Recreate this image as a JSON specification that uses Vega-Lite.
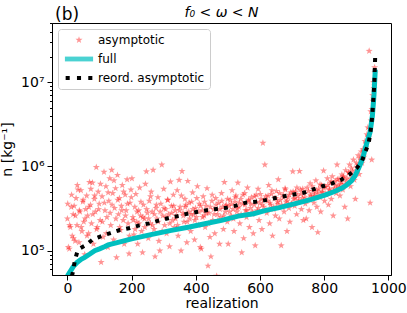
{
  "$schema": "https://vega.github.io/schema/vega-lite/v6.json",
  "background": "white",
  "padding": {"left": 0, "top": 5, "right": 5, "bottom": 3},
  "title": {"text": "(b)", "anchor": "start", "frame": "group", "fontSize": 17, "fontWeight": "normal", "font": "DejaVu Sans", "color": "black", "offset": -18, "dx": 3},
  "config": {
    "font": "DejaVu Sans",
    "view": {"stroke": "black", "strokeWidth": 1},
    "axis": {"domainColor": "black", "tickColor": "black", "labelColor": "black", "titleColor": "black", "labelFont": "DejaVu Sans", "titleFont": "DejaVu Sans", "labelFontSize": 14, "titleFontSize": 14, "titleFontWeight": "normal", "grid": false}
  },
  "datasets": {
    "stars": [
      {"i":0,"n":2.4e5},{"i":3,"n":1.1e5},{"i":6,"n":1.05e5},{"i":9,"n":1.9e5},{"i":12,"n":3.3e5},{"i":15,"n":1.5e5},{"i":18,"n":2.7e5},{"i":21,"n":3.4e5},{"i":24,"n":1.3e5},{"i":27,"n":4.2e5},{"i":30,"n":2.0e5},{"i":33,"n":5.3e5},{"i":36,"n":1.25e5},{"i":39,"n":2.9e5},{"i":42,"n":5.2e5},{"i":45,"n":1.7e5},{"i":48,"n":3.8e5},{"i":51,"n":2.2e5},{"i":54,"n":9.0e4},{"i":57,"n":3.1e5},{"i":60,"n":4.5e5},
      {"i":63,"n":2.6e5},{"i":66,"n":1.6e5},{"i":69,"n":6.5e5},{"i":72,"n":3.5e5},{"i":75,"n":2.1e5},{"i":78,"n":6.4e5},{"i":81,"n":1.2e5},{"i":84,"n":4.1e5},{"i":87,"n":2.9e5},{"i":90,"n":9.8e5},{"i":93,"n":1.9e5},{"i":96,"n":5.0e5},{"i":99,"n":3.6e5},{"i":102,"n":2.3e5},{"i":105,"n":7.3e4},{"i":108,"n":4.4e5},{"i":111,"n":1.45e5},{"i":114,"n":8.6e5},{"i":117,"n":3.0e5},{"i":120,"n":5.8e5},{"i":123,"n":2.5e5},{"i":126,"n":1.1e5},{"i":129,"n":3.9e5},{"i":132,"n":7.2e5},{"i":135,"n":2.0e5},{"i":138,"n":9.1e5},{"i":141,"n":4.8e5},{"i":144,"n":1.35e5},{"i":147,"n":3.2e5},{"i":150,"n":5.5e5},{"i":153,"n":8.3e4},{"i":156,"n":7.9e5},{"i":159,"n":2.7e5},{"i":162,"n":4.2e5},{"i":165,"n":1.75e5},{"i":168,"n":3.4e5},{"i":171,"n":6.0e5},{"i":174,"n":2.3e5},{"i":177,"n":1.2e5},{"i":180,"n":4.6e5},{"i":183,"n":3.0e5},{"i":186,"n":7.0e5},{"i":189,"n":2.1e5},{"i":192,"n":9.2e4},{"i":195,"n":3.7e5},{"i":198,"n":5.3e5},
      {"i":201,"n":7.2e5},{"i":204,"n":2.5e5},{"i":207,"n":1.55e5},{"i":210,"n":3.3e5},{"i":213,"n":4.7e5},{"i":216,"n":2.2e5},{"i":219,"n":1.2e5},{"i":222,"n":3.0e5},{"i":225,"n":5.6e5},{"i":228,"n":2.6e5},{"i":231,"n":1.7e5},{"i":234,"n":9.5e4},{"i":237,"n":3.5e5},{"i":240,"n":2.4e5},{"i":243,"n":6.2e5},{"i":246,"n":8.7e5},{"i":249,"n":2.8e5},{"i":252,"n":1.4e5},{"i":255,"n":3.9e5},{"i":258,"n":2.1e5},{"i":261,"n":5.0e5},{"i":264,"n":2.9e5},{"i":267,"n":9.1e5},{"i":270,"n":1.8e5},{"i":273,"n":8.5e4},{"i":276,"n":3.2e5},{"i":279,"n":2.4e5},{"i":282,"n":4.3e5},{"i":285,"n":1.3e5},{"i":288,"n":1.0e5},{"i":291,"n":3.6e5},{"i":294,"n":1.05e6},{"i":297,"n":2.6e5},{"i":300,"n":5.4e5},{"i":303,"n":2.0e5},{"i":306,"n":3.1e5},{"i":309,"n":1.6e5},{"i":312,"n":4.0e5},{"i":315,"n":2.7e5},{"i":318,"n":1.12e5},{"i":321,"n":6.6e5},{"i":324,"n":3.4e5},{"i":327,"n":2.3e5},{"i":330,"n":4.6e5},
      {"i":333,"n":1.9e5},{"i":336,"n":3.0e5},{"i":339,"n":2.6e5},{"i":342,"n":5.2e5},{"i":345,"n":1.5e5},{"i":348,"n":6.9e5},{"i":351,"n":3.3e5},{"i":354,"n":1.0e5},{"i":357,"n":8.8e5},{"i":360,"n":2.8e5},{"i":363,"n":2.2e5},{"i":366,"n":4.1e5},{"i":369,"n":3.5e5},{"i":372,"n":1.25e5},{"i":375,"n":6.7e5},{"i":378,"n":2.9e5},{"i":381,"n":2.4e5},{"i":384,"n":1.7e5},{"i":387,"n":3.8e5},{"i":390,"n":4.9e5},{"i":393,"n":2.7e5},{"i":396,"n":1.35e5},{"i":399,"n":3.2e5},{"i":402,"n":2.5e5},{"i":405,"n":5.8e5},{"i":408,"n":2.0e5},{"i":411,"n":3.6e5},{"i":414,"n":1.1e5},{"i":417,"n":1.05e5},{"i":420,"n":3.0e5},{"i":423,"n":4.4e5},{"i":426,"n":2.6e5},{"i":429,"n":1.9e5},{"i":432,"n":3.4e5},{"i":435,"n":5.5e5},{"i":438,"n":6.6e4},{"i":441,"n":2.8e5},{"i":444,"n":1.45e5},{"i":447,"n":8.5e4},{"i":450,"n":3.9e5},{"i":453,"n":2.3e5},{"i":456,"n":3.1e5},{"i":459,"n":1.6e5},{"i":462,"n":4.2e5},{"i":465,"n":5.0e4},{"i":468,"n":2.7e5},{"i":471,"n":3.7e5},{"i":474,"n":1.2e5},{"i":477,"n":2.5e5},{"i":480,"n":4.8e5},{"i":483,"n":3.3e5},{"i":486,"n":1.8e5},{"i":489,"n":6.5e5},{"i":492,"n":2.9e5},{"i":495,"n":3.5e5},{"i":498,"n":2.2e5},
      {"i":501,"n":1.2e5},{"i":504,"n":3.4e5},{"i":507,"n":4.0e5},{"i":510,"n":2.6e5},{"i":513,"n":5.2e5},{"i":516,"n":3.1e5},{"i":519,"n":1.7e5},{"i":522,"n":3.8e5},{"i":525,"n":4.5e5},{"i":528,"n":2.9e5},{"i":531,"n":6.4e5},{"i":534,"n":3.3e5},{"i":537,"n":2.1e5},{"i":540,"n":4.1e5},{"i":543,"n":9.5e4},{"i":546,"n":3.6e5},{"i":549,"n":1.4e5},{"i":552,"n":4.8e5},{"i":555,"n":3.0e5},{"i":558,"n":2.5e5},{"i":561,"n":5.6e5},{"i":564,"n":3.9e5},{"i":567,"n":1.9e5},{"i":570,"n":3.2e5},{"i":573,"n":4.3e5},{"i":576,"n":2.7e5},{"i":579,"n":1.6e5},{"i":582,"n":3.5e5},{"i":585,"n":1.15e5},{"i":588,"n":4.6e5},{"i":591,"n":3.0e5},{"i":594,"n":5.4e5},{"i":597,"n":2.3e5},{"i":600,"n":3.7e5},{"i":603,"n":4.1e5},{"i":606,"n":1.8e5},{"i":609,"n":1.9e6},{"i":612,"n":3.3e5},{"i":615,"n":1.05e6},{"i":618,"n":4.4e5},{"i":621,"n":2.8e5},{"i":624,"n":3.9e5},{"i":627,"n":6.0e5},{"i":630,"n":2.1e5},{"i":633,"n":3.5e5},{"i":636,"n":4.7e5},{"i":639,"n":1.5e5},{"i":642,"n":3.1e5},{"i":645,"n":4.2e5},{"i":648,"n":2.6e5},{"i":651,"n":5.1e5},{"i":654,"n":3.6e5},{"i":657,"n":7.0e5},{"i":660,"n":2.4e5},{"i":663,"n":4.0e5},{"i":666,"n":1.15e5},{"i":669,"n":3.3e5},{"i":672,"n":4.6e5},{"i":675,"n":2.9e5},{"i":678,"n":5.5e5},{"i":681,"n":3.8e5},{"i":684,"n":1.7e5},{"i":687,"n":4.3e5},{"i":690,"n":3.2e5},{"i":693,"n":2.2e5},{"i":696,"n":4.9e5},{"i":699,"n":3.6e5},
      {"i":702,"n":8.7e5},{"i":705,"n":4.1e5},{"i":708,"n":3.4e5},{"i":711,"n":5.0e5},{"i":714,"n":2.7e5},{"i":717,"n":4.5e5},{"i":720,"n":3.8e5},{"i":723,"n":8.8e5},{"i":726,"n":5.3e5},{"i":729,"n":3.1e5},{"i":732,"n":4.2e5},{"i":735,"n":2.3e5},{"i":738,"n":4.8e5},{"i":741,"n":3.6e5},{"i":744,"n":2.4e5},{"i":747,"n":5.6e5},{"i":750,"n":4.0e5},{"i":753,"n":3.0e5},{"i":756,"n":6.3e5},{"i":759,"n":4.4e5},{"i":762,"n":1.9e5},{"i":765,"n":5.1e5},{"i":768,"n":3.7e5},{"i":771,"n":4.7e5},{"i":774,"n":6.8e5},{"i":777,"n":3.3e5},{"i":780,"n":1.65e5},{"i":783,"n":5.4e5},{"i":786,"n":4.3e5},{"i":789,"n":2.9e5},{"i":792,"n":6.0e5},{"i":795,"n":4.9e5},{"i":798,"n":8.9e5},{"i":801,"n":3.9e5},{"i":804,"n":5.7e5},{"i":807,"n":4.6e5},{"i":810,"n":7.2e5},{"i":813,"n":3.5e5},{"i":816,"n":5.2e5},{"i":819,"n":6.4e5},{"i":822,"n":4.1e5},{"i":825,"n":7.6e5},{"i":828,"n":2.6e5},{"i":831,"n":5.5e5},{"i":834,"n":6.7e5},{"i":837,"n":4.8e5},{"i":840,"n":1.05e6},{"i":843,"n":5.9e5},{"i":846,"n":7.1e5},{"i":849,"n":4.5e5},
      {"i":852,"n":6.2e5},{"i":855,"n":8.0e5},{"i":858,"n":5.3e5},{"i":861,"n":7.4e5},{"i":864,"n":3.3e5},{"i":867,"n":9.0e5},{"i":870,"n":6.6e5},{"i":873,"n":2.4e5},{"i":876,"n":8.4e5},{"i":879,"n":1.05e6},{"i":882,"n":5.8e5},{"i":885,"n":9.5e5},{"i":888,"n":7.7e5},{"i":891,"n":1.2e6},{"i":894,"n":6.9e5},{"i":897,"n":4.1e5},{"i":900,"n":1.1e6},{"i":903,"n":9.0e5},{"i":906,"n":1.35e6},{"i":909,"n":8.1e5},{"i":912,"n":1.25e6},{"i":915,"n":1.5e6},{"i":918,"n":1.1e6},
      {"i":921,"n":1.6e6},{"i":924,"n":1.3e6},{"i":927,"n":2.0e6},{"i":930,"n":1.7e6},{"i":933,"n":2.4e6},{"i":936,"n":2.9e6},{"i":939,"n":2.2e6},{"i":940,"n":2.35e7},{"i":943,"n":3.7e5},{"i":945,"n":4.5e6},{"i":948,"n":1.2e6},{"i":951,"n":7.0e6},{"i":954,"n":1.0e7},{"i":957,"n":1.5e7},
      {"i":1,"n":3.6e5},{"i":7,"n":2.0e5},{"i":13,"n":4.6e5},{"i":19,"n":1.4e5},{"i":25,"n":2.6e5},{"i":31,"n":6.0e5},{"i":37,"n":3.0e5},{"i":43,"n":1.9e5},{"i":49,"n":4.0e5},{"i":55,"n":2.4e5},{"i":61,"n":1.5e5},{"i":67,"n":3.3e5},{"i":73,"n":5.4e5},{"i":79,"n":2.7e5},{"i":85,"n":4.5e5},{"i":91,"n":1.8e5},{"i":97,"n":3.1e5},{"i":103,"n":6.2e5},{"i":109,"n":2.2e5},{"i":115,"n":3.7e5},{"i":121,"n":1.6e5},{"i":127,"n":4.9e5},{"i":133,"n":2.8e5},{"i":139,"n":3.5e5},{"i":145,"n":6.8e5},{"i":151,"n":2.4e5},{"i":157,"n":4.0e5},{"i":163,"n":1.9e5},{"i":169,"n":3.0e5},{"i":175,"n":5.0e5},{"i":181,"n":2.6e5},{"i":187,"n":3.6e5},{"i":193,"n":1.5e5},{"i":199,"n":4.3e5},
      {"i":205,"n":2.3e5},{"i":211,"n":1.8e5},{"i":217,"n":2.9e5},{"i":223,"n":2.1e5},{"i":229,"n":3.8e5},{"i":235,"n":2.5e5},{"i":241,"n":1.9e5},{"i":247,"n":3.1e5},{"i":253,"n":2.4e5},{"i":259,"n":4.4e5},{"i":265,"n":2.0e5},{"i":271,"n":2.7e5},{"i":277,"n":3.5e5},{"i":283,"n":2.2e5},{"i":289,"n":2.9e5},{"i":295,"n":1.7e5},{"i":301,"n":3.2e5},{"i":307,"n":2.5e5},{"i":313,"n":4.0e5},{"i":319,"n":2.1e5},{"i":325,"n":2.8e5},{"i":331,"n":3.4e5},{"i":337,"n":2.4e5},{"i":343,"n":2.0e5},{"i":349,"n":3.0e5},{"i":355,"n":4.5e5},{"i":361,"n":2.6e5},{"i":367,"n":3.3e5},{"i":373,"n":2.2e5},{"i":379,"n":3.7e5},{"i":385,"n":2.7e5},{"i":391,"n":3.1e5},{"i":397,"n":2.3e5},{"i":403,"n":4.2e5},{"i":409,"n":2.9e5},{"i":415,"n":3.4e5},{"i":421,"n":2.5e5},{"i":427,"n":3.8e5},{"i":433,"n":2.8e5},{"i":439,"n":2.1e5},{"i":445,"n":3.3e5},{"i":451,"n":4.6e5},{"i":457,"n":2.7e5},{"i":463,"n":3.5e5},{"i":469,"n":2.3e5},{"i":475,"n":3.1e5},{"i":481,"n":3.9e5},{"i":487,"n":2.6e5},{"i":493,"n":3.4e5},{"i":499,"n":4.1e5},
      {"i":505,"n":2.9e5},{"i":511,"n":3.6e5},{"i":517,"n":2.4e5},{"i":523,"n":4.3e5},{"i":529,"n":3.2e5},{"i":535,"n":3.7e5},{"i":541,"n":2.7e5},{"i":547,"n":4.6e5},{"i":553,"n":3.5e5},{"i":559,"n":3.0e5},{"i":565,"n":4.0e5},{"i":571,"n":3.6e5},{"i":577,"n":2.9e5},{"i":583,"n":4.4e5},{"i":589,"n":3.8e5},{"i":595,"n":3.2e5},{"i":601,"n":4.7e5},{"i":607,"n":3.5e5},{"i":613,"n":4.0e5},{"i":619,"n":3.0e5},{"i":625,"n":4.5e5},{"i":631,"n":3.7e5},{"i":637,"n":5.2e5},{"i":643,"n":3.3e5},{"i":649,"n":4.2e5},{"i":655,"n":3.8e5},{"i":661,"n":4.8e5},{"i":667,"n":3.5e5},{"i":673,"n":4.3e5},{"i":679,"n":5.3e5},{"i":685,"n":3.9e5},{"i":691,"n":4.6e5},{"i":697,"n":3.6e5},
      {"i":703,"n":5.0e5},{"i":709,"n":4.2e5},{"i":715,"n":5.6e5},{"i":721,"n":4.0e5},{"i":727,"n":4.7e5},{"i":733,"n":5.4e5},{"i":739,"n":4.3e5},{"i":745,"n":3.9e5},{"i":751,"n":5.1e5},{"i":757,"n":4.6e5},{"i":763,"n":5.8e5},{"i":769,"n":4.4e5},{"i":775,"n":5.2e5},{"i":781,"n":4.8e5},{"i":787,"n":6.1e5},{"i":793,"n":5.0e5},{"i":799,"n":5.6e5},{"i":805,"n":4.7e5},{"i":811,"n":6.0e5},{"i":817,"n":5.4e5},{"i":823,"n":6.6e5},{"i":829,"n":5.1e5},{"i":835,"n":5.9e5},{"i":841,"n":7.0e5},{"i":847,"n":5.6e5},{"i":853,"n":6.5e5},{"i":859,"n":7.6e5},{"i":865,"n":6.1e5},{"i":871,"n":7.2e5},{"i":877,"n":8.5e5},{"i":883,"n":7.0e5},{"i":889,"n":8.8e5},{"i":895,"n":7.9e5},{"i":901,"n":9.8e5},{"i":907,"n":1.05e6},{"i":913,"n":1.2e6},{"i":919,"n":1.3e6},{"i":925,"n":1.5e6},{"i":931,"n":1.9e6},{"i":937,"n":2.3e6},{"i":941,"n":2.8e6},{"i":946,"n":3.5e6},{"i":949,"n":4.8e6},{"i":952,"n":6.0e6},{"i":955,"n":8.5e6},{"i":958,"n":1.3e7}
    ],
    "full": [
      {"i":0,"n":5.0e4},{"i":10,"n":5.75e4},{"i":18,"n":6.46e4},{"i":30,"n":7.24e4},{"i":44,"n":7.94e4},{"i":54,"n":8.32e4},{"i":70,"n":9.12e4},{"i":85,"n":1.0e5},{"i":100,"n":1.05e5},{"i":117,"n":1.12e5},{"i":127,"n":1.17e5},{"i":149,"n":1.23e5},{"i":200,"n":1.38e5},{"i":260,"n":1.55e5},{"i":324,"n":1.74e5},{"i":380,"n":1.91e5},{"i":428,"n":2.09e5},{"i":480,"n":2.29e5},{"i":532,"n":2.57e5},{"i":580,"n":2.75e5},{"i":615,"n":2.99e5},{"i":660,"n":3.24e5},{"i":719,"n":3.69e5},{"i":760,"n":4.07e5},{"i":802,"n":4.57e5},{"i":830,"n":5.01e5},{"i":854,"n":5.5e5},{"i":870,"n":6.03e5},{"i":885,"n":6.76e5},{"i":896,"n":7.76e5},{"i":906,"n":9.33e5},{"i":915,"n":1.12e6},{"i":922,"n":1.35e6},{"i":932,"n":1.86e6},{"i":943,"n":2.57e6},{"i":950,"n":3.98e6},{"i":955,"n":7.08e6},{"i":959,"n":1.41e7}
    ],
    "reord": [
      {"i":14,"n":5.0e4},{"i":18,"n":5.75e4},{"i":23,"n":7.59e4},{"i":31,"n":9.77e4},{"i":40,"n":1.07e5},{"i":55,"n":1.15e5},{"i":78,"n":1.35e5},{"i":104,"n":1.48e5},{"i":134,"n":1.62e5},{"i":163,"n":1.76e5},{"i":195,"n":1.86e5},{"i":224,"n":2.0e5},{"i":255,"n":2.11e5},{"i":283,"n":2.27e5},{"i":314,"n":2.43e5},{"i":343,"n":2.57e5},{"i":374,"n":2.75e5},{"i":402,"n":2.88e5},{"i":433,"n":3.02e5},{"i":465,"n":3.13e5},{"i":496,"n":3.24e5},{"i":525,"n":3.43e5},{"i":556,"n":3.72e5},{"i":586,"n":3.8e5},{"i":617,"n":3.98e5},{"i":648,"n":4.23e5},{"i":680,"n":4.47e5},{"i":709,"n":4.68e5},{"i":738,"n":4.9e5},{"i":768,"n":5.37e5},{"i":795,"n":5.82e5},{"i":825,"n":6.31e5},{"i":852,"n":6.92e5},{"i":877,"n":7.94e5},{"i":901,"n":9.55e5},{"i":917,"n":1.15e6},{"i":927,"n":1.45e6},{"i":938,"n":1.86e6},{"i":943,"n":2.4e6},{"i":947,"n":3.16e6},{"i":950,"n":4.17e6},{"i":952,"n":5.5e6},{"i":954,"n":7.24e6},{"i":956,"n":9.55e6},{"i":957,"n":1.26e7},{"i":958,"n":1.66e7},{"i":959,"n":2.19e7}
    ]
  },
  "vconcat": [
    {
      "width": 339,
      "height": 252,
      "title": {"text": "f₀ < ω < N", "fontStyle": "italic", "fontSize": 14, "fontWeight": "normal", "color": "black", "offset": -4},
      "layer": [
        {
          "data": {"name": "stars"},
          "mark": {"type": "point", "filled": true, "size": 55, "strokeWidth": 0, "clip": true},
          "encoding": {
            "x": {"field": "i", "type": "quantitative", "scale": {"domain": [-48, 1008], "nice": false, "zero": false},
                  "axis": {"values": [0, 200, 400, 600, 800, 1000], "format": "d", "title": "realization", "tickSize": 5, "labelPadding": 1, "titlePadding": 1, "labelFlush": false}},
            "y": {"field": "n", "type": "quantitative", "scale": {"type": "log", "domain": [51400, 50600000], "nice": false},
                  "axis": {"title": "n [kg⁻¹]", "labelPadding": 3, "titlePadding": 6, "labelFlush": false, "labelOverlap": false,
                           "tickSize": {"condition": {"test": "abs(log(datum.value)/LN10 - round(log(datum.value)/LN10)) < 0.001", "value": 5}, "value": 2.5},
                           "labelExpr": "abs(log(datum.value)/LN10 - round(log(datum.value)/LN10)) < 0.001 ? '10' + ['⁰','¹','²','³','⁴','⁵','⁶','⁷','⁸','⁹'][round(log(datum.value)/LN10)] : ''"}},
            "color": {"datum": "asymptotic", "type": "nominal",
                      "scale": {"domain": ["asymptotic", "full", "reord. asymptotic"], "range": ["#ff0000", "#00bfbf", "#000000"]},
                      "legend": {"title": null, "orient": "top-left", "offset": 6, "symbolSize": 55, "labelFontSize": 12, "labelFont": "DejaVu Sans", "labelColor": "black", "strokeColor": "#cccccc", "fillColor": "rgba(255,255,255,0.8)", "cornerRadius": 3, "padding": 5, "rowPadding": 7, "symbolOffset": 10, "labelOffset": 13, "symbolStrokeWidth": 0}},
            "shape": {"datum": "asymptotic", "type": "nominal",
                      "scale": {"domain": ["asymptotic", "full", "reord. asymptotic"], "range": ["M0,-1L0.235,-0.324L0.951,-0.309L0.38,0.124L0.588,0.809L0,0.4L-0.588,0.809L-0.38,0.124L-0.951,-0.309L-0.235,-0.324Z", "M-3.8,-0.65H3.8V0.65H-3.8Z", "M-3.6,-0.55H-2.5V0.55H-3.6Z M-0.55,-0.55H0.55V0.55H-0.55Z M2.5,-0.55H3.6V0.55H2.5Z"]},
                      "legend": {"title": null, "orient": "top-left", "offset": 6, "symbolSize": 55, "labelFontSize": 12, "labelFont": "DejaVu Sans", "labelColor": "black", "strokeColor": "#cccccc", "fillColor": "rgba(255,255,255,0.8)", "cornerRadius": 3, "padding": 5, "rowPadding": 7, "symbolOffset": 10, "labelOffset": 13, "symbolStrokeWidth": 0}},
            "opacity": {"datum": "asymptotic", "type": "nominal",
                      "scale": {"domain": ["asymptotic", "full", "reord. asymptotic"], "range": [0.42, 1, 1]},
                      "legend": {"title": null, "orient": "top-left", "offset": 6, "symbolSize": 55, "labelFontSize": 12, "labelFont": "DejaVu Sans", "labelColor": "black", "strokeColor": "#cccccc", "fillColor": "rgba(255,255,255,0.8)", "cornerRadius": 3, "padding": 5, "rowPadding": 7, "symbolOffset": 10, "labelOffset": 13, "symbolStrokeWidth": 0}}
          }
        },
        {
          "data": {"name": "full"},
          "mark": {"type": "line", "color": "#00bfbf", "strokeWidth": 5, "clip": true, "strokeCap": "butt"},
          "encoding": {
            "x": {"field": "i", "type": "quantitative"},
            "y": {"field": "n", "type": "quantitative"}
          }
        },
        {
          "data": {"name": "reord"},
          "mark": {"type": "line", "color": "black", "strokeWidth": 4, "strokeDash": [4, 6], "clip": true, "strokeCap": "butt"},
          "encoding": {
            "x": {"field": "i", "type": "quantitative"},
            "y": {"field": "n", "type": "quantitative"}
          }
        }
      ]
    }
  ]
}
